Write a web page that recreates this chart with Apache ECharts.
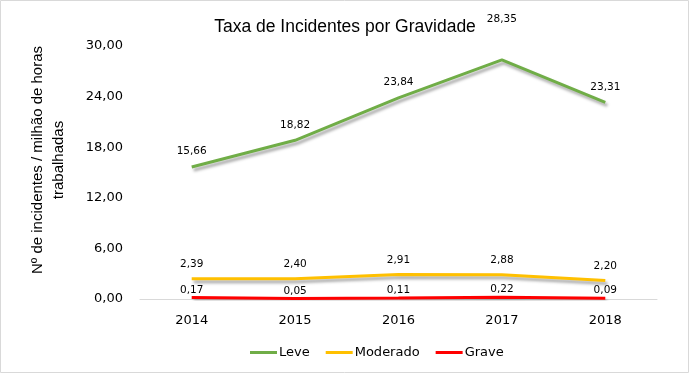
<!DOCTYPE html>
<html><head><meta charset="utf-8">
<script src="https://cdn.jsdelivr.net/npm/echarts@6/dist/echarts.min.js"></script>
<style>html,body{margin:0;padding:0;background:#fff}#c{width:690px;height:374px}</style>
</head><body><div id="c"></div>
<script>
const categories = ['2014','2015','2016','2017','2018'];
const leve = [15.66, 18.82, 23.84, 28.35, 23.31];
const moderado = [2.39, 2.40, 2.91, 2.88, 2.20];
const grave = [0.17, 0.05, 0.11, 0.22, 0.09];
const yTicks = {min: 0, max: 30, interval: 6};

const fmt = v => v.toFixed(2).replace('.', ',');
const chart = echarts.init(document.getElementById('c'), null, {renderer: 'canvas'});
const shadow = {shadowColor: 'rgba(0,0,0,0.35)', shadowBlur: 3, shadowOffsetX: 2, shadowOffsetY: 3};
function mk(name, data, color, dist) {
  const maxIdx = data.indexOf(Math.max(...data));
  return {
    name, type: 'line', data: data.map((v, i) => (name === 'Leve' && i === maxIdx) ? {value: v, label: {distance: 35}} : v),
    symbol: 'circle', symbolSize: 0, showSymbol: true,
    lineStyle: Object.assign({color, width: 3}, shadow),
    itemStyle: {color},
    label: {show: true, position: 'top', distance: dist, color: '#000', fontFamily: 'DejaVu Sans', fontSize: 10.5,
      formatter: p => fmt(p.value)},
    animation: false
  };
}
chart.setOption({
  animation: false,
  title: {text: 'Taxa de Incidentes por Gravidade', left: 'center', top: 13,
    textStyle: {fontFamily: 'Liberation Sans', fontSize: 17.5, fontWeight: 'normal', color: '#000'}},
  legend: {bottom: 10, left: 245, itemWidth: 27, itemHeight: 3, itemGap: 16, icon: 'rect',
    textStyle: {fontFamily: 'DejaVu Sans', fontSize: 13, color: '#000', padding: [0,0,0,-3]},
    data: ['Leve','Moderado','Grave']},
  grid: {left: 140, right: 33, top: 46, bottom: 75},
  xAxis: {type: 'category', data: categories, boundaryGap: true,
    axisLine: {lineStyle: {color: '#d9d9d9', width: 1}}, axisTick: {show: false},
    axisLabel: {color: '#000', fontFamily: 'DejaVu Sans', fontSize: 13, margin: 15}},
  yAxis: {type: 'value', min: yTicks.min, max: yTicks.max, interval: yTicks.interval,
    splitLine: {show: false}, axisLine: {show: false}, axisTick: {show: false},
    axisLabel: {color: '#000', fontFamily: 'DejaVu Sans', fontSize: 13, margin: 17, formatter: v => fmt(v)}},
  graphic: [{type: 'text', x: 48, y: 160, rotation: Math.PI / 2,
    style: {text: 'Nº de incidentes / milhão de horas\ntrabalhadas', align: 'center', verticalAlign: 'middle',
      fontFamily: 'Liberation Sans', fontSize: 15, lineHeight: 21, fill: '#000'}},
    {type: 'rect', shape: {x: 0.5, y: 0.5, width: 688, height: 372}, style: {fill: 'none', stroke: '#d9d9d9', lineWidth: 1}, silent: true}],
  series: [mk('Leve', leve, '#70AD47', 10), mk('Moderado', moderado, '#FFC000', 9), mk('Grave', grave, '#FF0000', 2)]
});
</script></body></html>
